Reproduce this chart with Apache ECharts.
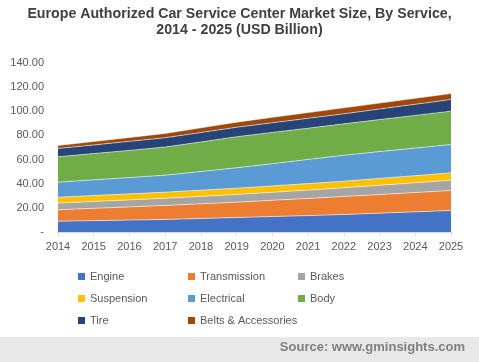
<!DOCTYPE html>
<html>
<head>
<meta charset="utf-8">
<script src="https://cdn.jsdelivr.net/npm/echarts@6/dist/echarts.min.js"></script>
<style>html,body{margin:0;padding:0;background:#fff}#c{width:479px;height:362px}</style>
</head>
<body>
<div id="c"></div>
<script>
var years = ['2014','2015','2016','2017','2018','2019','2020','2021','2022','2023','2024','2025'];
var engine       = [9.0, 9.4, 9.9, 10.4, 11.2, 12.0, 12.8, 13.6, 14.5, 15.6, 16.7, 17.8];
var transmission = [9.4, 10.2, 10.9, 11.6, 12.1, 12.7, 13.5, 14.2, 14.9, 15.4, 16.0, 16.6];
var brakes       = [5.5, 5.7, 5.8, 6.0, 6.2, 6.4, 6.6, 6.9, 7.2, 7.7, 8.1, 8.5];
var suspension   = [4.9, 4.9, 5.0, 5.0, 5.1, 5.2, 5.3, 5.4, 5.5, 5.7, 5.9, 6.1];
var electrical   = [12.5, 13.0, 13.5, 14.1, 15.5, 16.9, 18.4, 20.0, 21.5, 22.2, 22.8, 23.5];
var body         = [21.0, 21.8, 22.5, 23.3, 24.5, 25.7, 25.9, 25.9, 26.0, 26.5, 27.1, 27.6];
var tire         = [6.9, 7.1, 7.5, 7.7, 7.8, 7.9, 8.0, 8.2, 8.3, 8.8, 9.2, 9.7];
var belts        = [2.5, 2.9, 3.2, 3.6, 3.9, 4.2, 4.5, 4.7, 5.0, 4.9, 5.0, 4.9];

var names = ['Engine','Transmission','Brakes','Suspension','Electrical','Body','Tire','Belts & Accessories'];
var values = [engine, transmission, brakes, suspension, electrical, body, tire, belts];
var colors = ['#4472C4','#ED7D31','#A5A5A5','#FFC000','#5B9BD5','#70AD47','#264478','#9E480E'];

var series = names.map(function(n, i){
  return {
    name: n, type: 'line', stack: 'total', data: values[i],
    symbol: 'none', showSymbol: false,
    lineStyle: { width: 1, color: 'rgba(255,255,255,0.55)' },
    areaStyle: { color: colors[i], opacity: 1 },
    itemStyle: { color: colors[i] },
    emphasis: { disabled: true },
    z: 2
  };
});

var legendText = { fontFamily: 'Liberation Sans, Arial, sans-serif', fontSize: 11, color: '#595959' };
function leg(left, data){
  return { orient: 'vertical', left: left, top: 266, itemWidth: 7, itemHeight: 7, itemGap: 11,
    icon: 'rect', data: data, textStyle: legendText, selectedMode: false };
}

var chart = echarts.init(document.getElementById('c'), null, { renderer: 'canvas' });
chart.setOption({
  animation: false,
  color: colors,
  title: {
    text: 'Europe Authorized Car Service Center Market Size, By Service,\n2014 - 2025 (USD Billion)',
    left: 'center', top: 1,
    textStyle: { fontFamily: 'Liberation Sans, Arial, sans-serif', fontSize: 14.2, fontWeight: 'bold', color: '#404040', lineHeight: 16 }
  },
  legend: [
    leg(73, ['Engine','Suspension','Tire']),
    leg(183, ['Transmission','Electrical','Belts & Accessories']),
    leg(293, ['Brakes','Body'])
  ],
  grid: { left: 58, right: 28, top: 63, bottom: 130, containLabel: false },
  xAxis: {
    type: 'category', data: years, boundaryGap: false,
    axisLine: { lineStyle: { color: '#d9d9d9' } },
    axisTick: { show: true, alignWithLabel: true, length: 4, lineStyle: { color: '#d9d9d9' } },
    axisLabel: { color: '#595959', fontSize: 11, fontFamily: 'Liberation Sans, Arial, sans-serif', margin: 9 },
    splitLine: { show: false }
  },
  yAxis: {
    type: 'value', min: 0, max: 140, interval: 20,
    axisLine: { show: false }, axisTick: { show: false }, splitLine: { show: false },
    axisLabel: { color: '#595959', fontSize: 11, fontFamily: 'Liberation Sans, Arial, sans-serif', margin: 14,
      formatter: function(v){ return v === 0 ? '-' : v.toFixed(2); } }
  },
  graphic: [
    { type: 'rect', left: 0, top: 337, shape: { width: 479, height: 25 }, style: { fill: '#e8e8e8' }, z: -1 },
    { type: 'text', right: 14, top: 341, style: { text: 'Source: www.gminsights.com', fill: '#7f7f7f',
      font: 'bold 13px "Liberation Sans", Arial, sans-serif' } }
  ],
  series: series
});
</script>
</body>
</html>
